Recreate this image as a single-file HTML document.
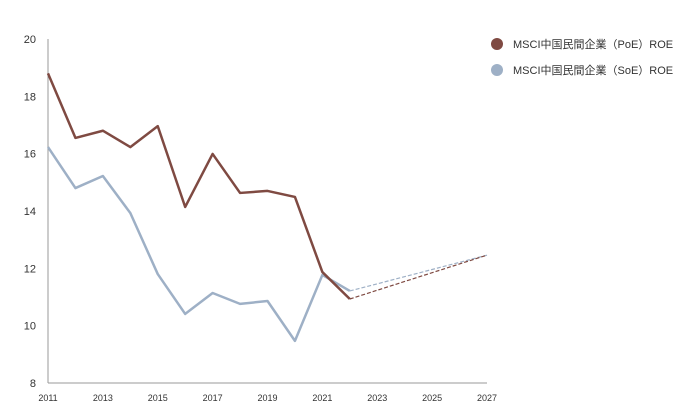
<!DOCTYPE html>
<html><head><meta charset="utf-8"><style>
body{margin:0;background:#fff;width:682px;height:415px;overflow:hidden}
text{font-family:"Liberation Sans","Noto Sans CJK JP",sans-serif;fill:#333}
</style></head><body>
<svg id="c" width="682" height="415"></svg>
<script>
const years=[2011,2012,2013,2014,2015,2016,2017,2018,2019,2020,2021,2022];
const poe=[18.8,16.55,16.8,16.23,16.96,14.14,15.99,14.63,14.7,14.49,11.87,10.93];
const soe=[16.23,14.8,15.22,13.93,11.8,10.41,11.14,10.76,10.86,9.47,11.77,11.21];
const forecastYear=2027;
const poeForecast=12.46;
const soeForecast=12.46;
const yTicks=[8,10,12,14,16,18,20];
const xTicks=[2011,2013,2015,2017,2019,2021,2023,2025,2027];
const NS="http://www.w3.org/2000/svg";
const svg=document.getElementById('c');
const X=v=>48+(v-2011)*(487-48)/16;
const Y=v=>383-(v-8)*(383-39)/12;
function mk(t,a){const e=document.createElementNS(NS,t);for(const k in a)e.setAttribute(k,a[k]);svg.appendChild(e);return e;}
let ax=mk('line',{x1:48,y1:39,x2:48,y2:383,stroke:'#999','stroke-width':1});


let bx=mk('line',{x1:48,y1:383,x2:487,y2:383,stroke:'#999','stroke-width':1});


yTicks.forEach(v=>{const t=mk('text',{x:36,y:Y(v)+4,'text-anchor':'end','font-size':11});t.textContent=v;

});
xTicks.forEach(v=>{const t=mk('text',{x:X(v),y:401,'text-anchor':'middle','font-size':9});t.textContent=v;

});
function series(vals,fc,color,name){
const p=mk('polyline',{points:vals.map((v,i)=>X(years[i])+','+Y(v)).join(' '),fill:'none',stroke:color,'stroke-width':2.5,'stroke-linejoin':'round'});


const l=vals.length-1;
const d=mk('line',{x1:X(years[l]),y1:Y(vals[l]),x2:X(forecastYear),y2:Y(fc),stroke:color,'stroke-width':1.2,'stroke-dasharray':'4,2'});

}
series(soe,soeForecast,'#9eb0c6','soe');
series(poe,poeForecast,'#7f4a42','poe');
[['#7f4a42','MSCI中国民間企業（PoE）ROE',44,'legend-poe'],['#9eb0c6','MSCI中国民間企業（SoE）ROE',70,'legend-soe']].forEach(([c,t,y,n])=>{
const ci=mk('circle',{cx:497,cy:y,r:6,fill:c});


const tx=mk('text',{x:513,y:y+4,'font-size':11});tx.textContent=t;

});
</script>
</body></html>
